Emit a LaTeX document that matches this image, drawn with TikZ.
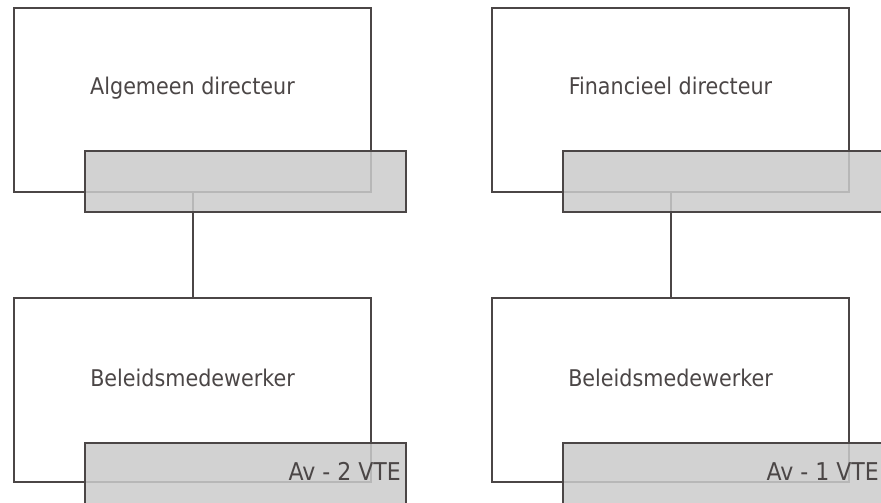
\documentclass[tikz,border=0pt]{standalone}
\usepackage{fontspec}
\setmainfont{DejaVu Sans Condensed}
\definecolor{lineC}{RGB}{75,70,70}
\definecolor{txtC}{RGB}{75,70,70}
\definecolor{grayF}{RGB}{203,203,203}
\begin{document}
\begin{tikzpicture}[x=1pt,y=1pt,
  outerbox/.style={draw=lineC, line width=2pt, fill=white, rectangle, minimum width=357pt, minimum height=184pt, inner sep=0pt, outer sep=0pt},
  graybox/.style={draw=lineC, line width=2pt, fill=grayF, fill opacity=0.85, draw opacity=1, rectangle, minimum width=321pt, minimum height=61pt, inner sep=0pt, outer sep=0pt},
  title/.style={font=\fontsize{23}{27}\selectfont, text=txtC, anchor=base, inner sep=0pt},
  tag/.style={font=\fontsize{24.5}{28}\selectfont, text=txtC, anchor=base east, inner sep=0pt},
  conn/.style={draw=lineC, line width=2pt}]
\useasboundingbox (0,0) rectangle (881,503);
\clip (0,0) rectangle (881,503);
% left column
\node[outerbox] (tl) at (192.5,403) {};
\node[outerbox] (bl) at (192.5,113) {};
\draw[conn] (tl.south) -- (bl.north);
\node[graybox] (tlg) at (245.5,321.5) {};
\node[graybox] (blg) at (245.5,29.5) {};
\node[title] (tlt) at (192.5,408) {Algemeen directeur};
\node[title] (blt) at (192.5,116) {Beleidsmedewerker};
\node[tag] (blv) at ([xshift=-5pt]blg.east |- 0,22) {Av - 2 VTE};
% right column
\node[outerbox] (tr) at (670.5,403) {};
\node[outerbox] (br) at (670.5,113) {};
\draw[conn] (tr.south) -- (br.north);
\node[graybox] (trg) at (723.5,321.5) {};
\node[graybox] (brg) at (723.5,29.5) {};
\node[title] (trt) at (670.5,408) {Financieel directeur};
\node[title] (brt) at (670.5,116) {Beleidsmedewerker};
\node[tag] (brv) at ([xshift=-5pt]brg.east |- 0,22) {Av - 1 VTE};
\end{tikzpicture}
\end{document}
